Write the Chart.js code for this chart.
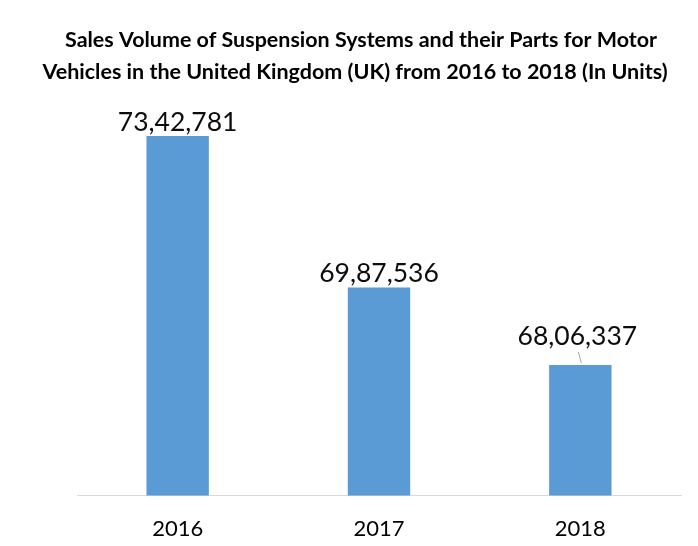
<!DOCTYPE html>
<html><head><meta charset="utf-8">
<script src="https://cdn.jsdelivr.net/npm/chart.js@4"></script>
<style>html,body{margin:0;padding:0;background:#fff}#wrap{width:698px;height:546px}</style>
</head><body><div id="wrap"><canvas id="c" width="698" height="546"></canvas></div>
<script>
const categories = ["2016", "2017", "2018"];
const salesUnits = [7342781, 6987536, 6806337];
const valueLabels = ["73,42,781", "69,87,536", "68,06,337"];
const titleLines = ["Sales Volume of Suspension Systems and their Parts for Motor", "Vehicles in the United Kingdom (UK) from 2016 to 2018 (In Units)"];

const titlePlugin = {
  id: 'titleDraw',
  afterDraw(chart) {
    const ctx = chart.ctx;
    ctx.save();
    ctx.fillStyle = '#000';
    ctx.font = 'bold 21.5px Lato';
    ctx.textAlign = 'center';
    ctx.textBaseline = 'middle';
    ctx.fillText(titleLines[0], 361, 40, 592);
    ctx.fillText(titleLines[1], 355, 72, 630);
    ctx.restore();
  }
};
const labelPlugin = {
  id: 'valLabels',
  afterDatasetsDraw(chart) {
    const ctx = chart.ctx;
    const meta = chart.getDatasetMeta(0);
    ctx.save();
    ctx.font = '26.5px Lato';
    ctx.fillStyle = '#0d0d0d';
    ctx.textAlign = 'center';
    ctx.textBaseline = 'middle';
    meta.data.forEach((bar, i) => {
      let dy = 14, dx = 0;
      if (i === 2) {
        dy = 28; dx = -3;
        ctx.strokeStyle = '#a6a6a6';
        ctx.lineWidth = 1;
        ctx.beginPath();
        ctx.moveTo(bar.x + 1, bar.y - 2);
        ctx.lineTo(bar.x - 2, bar.y - 13);
        ctx.stroke();
      }
      ctx.fillText(valueLabels[i], bar.x + dx, bar.y - dy);
    });
    ctx.restore();
  }
};

new Chart(document.getElementById('c'), {
  type: 'bar',
  data: {
    labels: categories,
    datasets: [{ data: salesUnits, backgroundColor: '#5b9bd5', barPercentage: 0.31, categoryPercentage: 1 }]
  },
  options: {
    responsive: false,
    animation: false,
    layout: { padding: { top: 69, left: 77, right: 17, bottom: -8 } },
    plugins: { legend: { display: false }, title: { display: false }, tooltip: { enabled: false } },
    scales: {
      y: { display: false, min: 6500000, max: 7500000 },
      x: {
        grid: { display: false },
        border: { color: '#d9d9d9', width: 1 },
        ticks: { color: '#000', font: { family: 'Lato', size: 22 }, padding: 12 }
      }
    }
  },
  plugins: [titlePlugin, labelPlugin]
});
</script></body></html>
